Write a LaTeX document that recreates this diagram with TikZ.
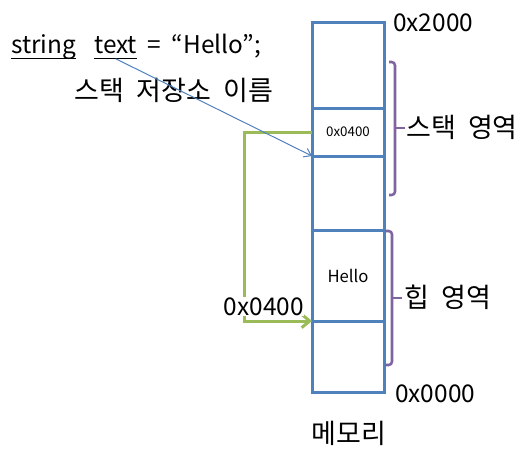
\documentclass[tikz,border=0pt]{standalone}
\usepackage{fontspec}
\setmainfont{Noto Sans CJK KR}
\usetikzlibrary{arrows.meta}
\definecolor{memblue}{HTML}{4F81BD}
\definecolor{memgreen}{HTML}{9BBB59}
\definecolor{mempurple}{HTML}{8064A2}
\newcommand\ksp{\hspace{0.45em}}
\newcommand\myul[1]{\setbox0\hbox{#1}\rlap{\rule[-4.3pt]{\wd0}{0.75pt}}\box0}
\begin{document}
\begin{tikzpicture}[x=0.75pt,y=-0.75pt,
  cell/.style={draw=memblue,line width=2.25pt,minimum width=54pt,inner sep=0pt,outer sep=0pt,anchor=north west},
  big/.style={font=\fontsize{18.3pt}{21pt}\selectfont,inner sep=0pt},
  kor/.style={font=\fontsize{20.25pt}{23pt}\selectfont,inner sep=0pt},
  brace/.style={draw=mempurple,line width=1.9pt,rounded corners=2.5pt}]
\useasboundingbox (0,0) rectangle (532,455);
% memory cells
\node[cell,minimum height=64.5pt] (c1) at (312,22) {};
\node[cell,minimum height=36pt] (c2) at (312,108) {};
\node[cell,minimum height=55.5pt] (c3) at (312,156) {};
\node[cell,minimum height=68.25pt] (c4) at (312,230) {};
\node[cell,minimum height=53.25pt] (c5) at (312,321) {};
\node[font=\fontsize{10pt}{12pt}\selectfont,inner sep=0pt] (v1) at (c2.center) {0x0400};
\node[font=\fontsize{12.5pt}{15pt}\selectfont,inner sep=0pt] (v2) at (c4.center) {Hello};
% code line
\node[big,anchor=base west] (str) at (11,53) {\myul{string}};
\node[big,anchor=base west] (txt) at (94,53) {\myul{text}};
\node[big,anchor=base west] (rest) at (147,53) {=\hspace{0.45em}“Hello”;};
\node[kor] (stk) at (174,90) {스택\ksp 저장소\ksp 이름};
% green pointer arrow
\draw[memgreen,line width=2.25pt,-{Straight Barb[length=6pt,width=10pt]}] (c2.west) -- (244,132) |- (c5.north west);
% addresses
\node[big,anchor=base west] (a2000) at (393,31) {0x2000};
\node[big,anchor=base west] (a0000) at (395,402) {0x0000};
\node[big,anchor=base west,fill=white,inner sep=0.5pt] (a0400) at (223,315) {0x0400};
\node[kor] (mem) at (349,433) {메모리};
\node[kor] (stkarea) at (462,127) {스택\ksp 영역};
\node[kor] (heaparea) at (448,297) {힙\ksp 영역};
% braces
\draw[brace] (389,62) -- (395,62) -- (395,195) -- (389,195);
\draw[draw=mempurple,line width=1.9pt] (395,128) -- (405,128);
\draw[brace] (385,231) -- (392,231) -- (392,365) -- (385,365);
\draw[draw=mempurple,line width=1.9pt] (392,298) -- (402,298);
% blue arrow
\draw[memblue,line width=0.75pt,-{Straight Barb[length=5pt,width=7pt]}] ([yshift=-4.3pt]txt.base) -- (c3.north west);
\end{tikzpicture}
\end{document}
